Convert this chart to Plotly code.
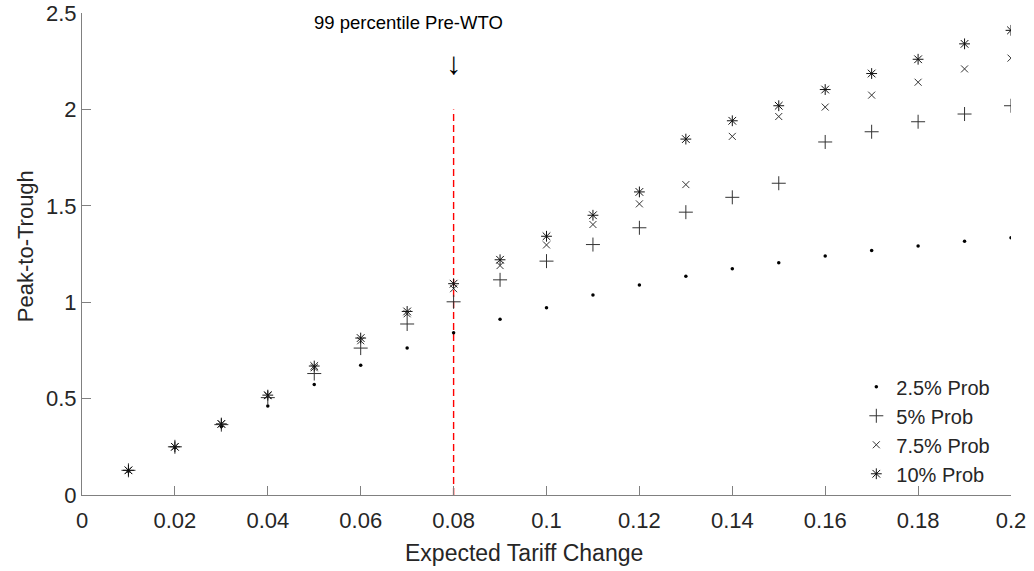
import plotly.graph_objects as go

# ---- data ----
tariff_change = [0.01, 0.02, 0.03, 0.04, 0.05, 0.06, 0.07, 0.08, 0.09, 0.10,
                 0.11, 0.12, 0.13, 0.14, 0.15, 0.16, 0.17, 0.18, 0.19, 0.20]
prob_2_5 = [0.123, 0.245, 0.355, 0.462, 0.573, 0.673, 0.762, 0.842, 0.911, 0.971,
            1.037, 1.089, 1.134, 1.173, 1.205, 1.239, 1.268, 1.292, 1.316, 1.334]
prob_5 = [0.128, 0.250, 0.365, 0.505, 0.630, 0.762, 0.887, 1.002, 1.116, 1.213,
          1.299, 1.386, 1.467, 1.544, 1.617, 1.831, 1.884, 1.936, 1.976, 2.019]
prob_7_5 = [0.128, 0.250, 0.368, 0.515, 0.660, 0.800, 0.940, 1.070, 1.190, 1.297,
            1.403, 1.510, 1.610, 1.860, 1.963, 2.012, 2.074, 2.141, 2.210, 2.266]
prob_10 = [0.128, 0.250, 0.369, 0.518, 0.669, 0.814, 0.952, 1.096, 1.220, 1.342,
           1.451, 1.572, 1.846, 1.941, 2.019, 2.103, 2.186, 2.260, 2.340, 2.410]
series_names = ["2.5% Prob", "5% Prob", "7.5% Prob", "10% Prob"]

cutoff_x = [0.08, 0.08]
cutoff_y = [0, 2]
cutoff_label = "99 percentile Pre-WTO"

x_ticks = [0, 0.02, 0.04, 0.06, 0.08, 0.1, 0.12, 0.14, 0.16, 0.18, 0.2]
x_tick_labels = ["0", "0.02", "0.04", "0.06", "0.08", "0.1", "0.12", "0.14", "0.16", "0.18", "0.2"]
y_ticks = [0, 0.5, 1, 1.5, 2, 2.5]
y_tick_labels = ["0", "0.5", "1", "1.5", "2", "2.5"]

# ---- figure ----
FONT = "Liberation Sans, Arial, sans-serif"
TXT = "#262626"
AX = "#808080"

fig = go.Figure()

fig.add_trace(go.Scatter(
    x=cutoff_x, y=cutoff_y, mode="lines", showlegend=False, hoverinfo="skip",
    line=dict(color="#ff0000", width=1.4, dash="7px,4px")))

styles = [
    dict(symbol="circle", size=3.5, color="#000000", line=dict(width=0)),
    dict(symbol="cross-thin-open", size=10, color="#333333", line=dict(width=1, color="#333333")),
    dict(symbol="x-thin-open", size=7, color="#333333", line=dict(width=1, color="#333333")),
    dict(symbol="asterisk-open", size=9, color="#111111", line=dict(width=1, color="#111111")),
]
for name, ys, st in zip(series_names, [prob_2_5, prob_5, prob_7_5, prob_10], styles):
    fig.add_trace(go.Scatter(x=tariff_change, y=ys, mode="markers", name=name, marker=st))

fig.update_layout(
    width=1034, height=571,
    margin=dict(l=81.5, r=23, t=12.7, b=76, autoexpand=False),
    paper_bgcolor="white", plot_bgcolor="white",
    font=dict(family=FONT, color=TXT),
    showlegend=True,
    legend=dict(x=0.8335, y=0.265, xanchor="left", yanchor="top",
                font=dict(size=20, color=TXT, family=FONT),
                bgcolor="rgba(0,0,0,0)", borderwidth=0,
                itemsizing="trace", tracegroupgap=0),
    xaxis=dict(range=[0, 0.2], tickvals=x_ticks, ticktext=x_tick_labels, automargin=False,
               showgrid=False, zeroline=False, showline=True, linecolor=AX, linewidth=1,
               ticks="inside", ticklen=9, tickcolor=AX, tickwidth=1, ticklabelstandoff=6,
               tickfont=dict(size=22, color=TXT, family=FONT), mirror=False),
    yaxis=dict(range=[0, 2.5], tickvals=y_ticks, ticktext=y_tick_labels, automargin=False,
               showgrid=False, zeroline=False, showline=True, linecolor=AX, linewidth=1,
               ticks="inside", ticklen=9, tickcolor=AX, tickwidth=1,
               tickfont=dict(size=22, color=TXT, family=FONT), mirror=False),
    annotations=[
        dict(text="Expected Tariff Change", xref="paper", yref="paper",
             x=(524 - 81.5) / 929.5, y=-0.09, xanchor="center", yanchor="top",
             showarrow=False, font=dict(size=23, color=TXT, family=FONT)),
        dict(text="Peak-to-Trough", xref="paper", yref="paper",
             x=(10 - 81.5) / 929.5, y=(495 - 246) / 482.3, xanchor="left", yanchor="middle",
             textangle=-90, showarrow=False, font=dict(size=22, color=TXT, family=FONT)),
        dict(text=cutoff_label, xref="paper", yref="paper",
             x=(408 - 81.5) / 929.5, y=(495 - 22) / 482.3, xanchor="center", yanchor="middle",
             showarrow=False, font=dict(size=18.5, color="#000000", family=FONT)),
        dict(text="\u2193", xref="x", yref="paper",
             x=cutoff_x[0], y=(495 - 63) / 482.3, xanchor="center", yanchor="middle",
             showarrow=False, font=dict(size=31, color="#000000", family=FONT)),
    ],
)

fig.write_html("out.html", config={"displayModeBar": False},
               post_script="document.body.style.margin='0px';")
